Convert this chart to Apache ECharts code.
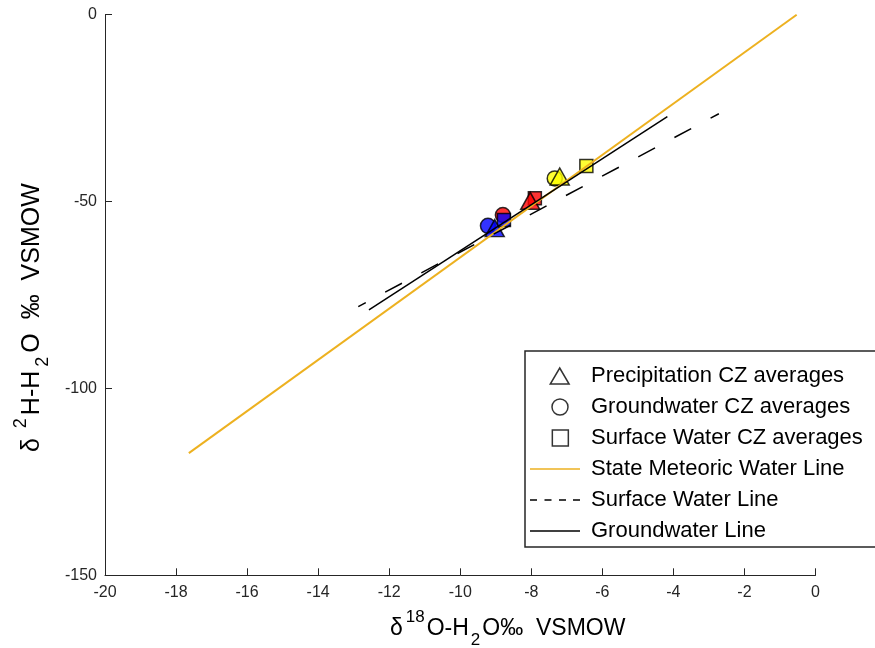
<!DOCTYPE html>
<html><head><meta charset="utf-8">
<script src="https://cdn.jsdelivr.net/npm/echarts@6/dist/echarts.min.js"></script>
<style>html,body{margin:0;padding:0;background:#fff}#c{width:875px;height:648px}</style>
</head><body><div id="c"></div>
<script>
// CZ order: yellow, red, blue
const czColors = ['#FFFF00', '#FF0000', '#0000FF'];
const precipX = [-7.20, -8.03, -9.03];
const precipY = [-43.3, -49.8, -57.1];
const gwX = [-7.34, -8.80, -9.22];
const gwY = [-43.8, -53.6, -56.5];
const swX = [-6.45, -7.90, -8.77];
const swY = [-40.5, -49.1, -54.9];
const smwlX = [-17.64, -0.53];
const smwlY = [-117.3, 0];
const swLineX = [-12.87, -2.72];
const swLineY = [-78.1, -26.5];
const gwLineX = [-12.57, -4.17];
const gwLineY = [-79.0, -27.3];
const names = ['Precipitation CZ averages', 'Groundwater CZ averages', 'Surface Water CZ averages',
  'State Meteoric Water Line', 'Surface Water Line', 'Groundwater Line'];

const F = '"Liberation Sans", Arial, Helvetica, sans-serif';
const AX = '#262626';
const pts = (xs, ys) => xs.map((x, i) => ({ value: [x, ys[i]], itemStyle: { color: czColors[i] } }));
const pairs = (xs, ys) => xs.map((x, i) => [x, ys[i]]);
const mk = { borderColor: '#000', borderWidth: 1.5 };
const legIcon = { color: '#fff', borderColor: '#000', borderWidth: 1.5 };

const icons = {
  tri: 'path://M-10,8.5M10,0L20,17L0,17Z',
  circ: 'path://M-10,8M0,8A8,8 0 1,0 16,8A8,8 0 1,0 0,8Z',
  sq: 'path://M-10,7.5M0,0L15,0L15,15L0,15Z',
  solid: 'path://M0,0L50,0L50,1.5L0,1.5Z',
  dash: 'path://M0,0h7v1.5h-7zM14.5,0h7v1.5h-7zM29,0h7v1.5h-7zM43,0h7v1.5h-7z'
};

const chart = echarts.init(document.getElementById('c'), null, { renderer: 'canvas' });
chart.setOption({
  animation: false,
  backgroundColor: '#fff',
  grid: { left: 105, right: 59.5, top: 14.7, bottom: 72.7, containLabel: false },
  xAxis: {
    type: 'value', min: -20, max: 0, interval: 2,
    axisLine: { onZero: false, lineStyle: { color: AX, width: 1 } },
    axisTick: { inside: true, length: 7, lineStyle: { color: AX } },
    axisLabel: { fontSize: 16, color: AX, fontFamily: F, margin: 9 },
    splitLine: { show: false }
  },
  yAxis: {
    type: 'value', min: -150, max: 0, interval: 50,
    axisLine: { show: true, onZero: false, lineStyle: { color: AX, width: 1 } },
    axisTick: { show: true, inside: true, length: 7, lineStyle: { color: AX } },
    axisLabel: { fontSize: 16, color: AX, fontFamily: F, margin: 8 },
    splitLine: { show: false }
  },
  legend: {
    orient: 'vertical', left: 525, top: 351,
    padding: [14, 30, 5, 5], itemGap: 9, itemWidth: 50, itemHeight: 16,
    symbolKeepAspect: true,
    backgroundColor: '#fff', borderColor: AX, borderWidth: 1.5, borderRadius: 0,
    textStyle: { fontSize: 22, color: '#000', fontFamily: F, padding: [0, 0, 0, 6] },
    selectedMode: false,
    data: [
      { name: names[0], icon: icons.tri, itemStyle: legIcon },
      { name: names[1], icon: icons.circ, itemStyle: legIcon },
      { name: names[2], icon: icons.sq, itemStyle: legIcon },
      { name: names[3], icon: icons.solid, itemStyle: { color: '#EDB120', borderWidth: 0 } },
      { name: names[4], icon: icons.dash, itemStyle: { color: '#000', borderWidth: 0 } },
      { name: names[5], icon: icons.solid, itemStyle: { color: '#000', borderWidth: 0 } }
    ]
  },
  graphic: [
    {
      type: 'text', x: 390, y: 609,
      style: {
        text: '{m|δ}{sup|18}{m|O-H}{sub|2}{m|O‰  VSMOW}',
        textAlign: 'left', textVerticalAlign: 'top',
        rich: {
          m: { fontSize: 23, fontFamily: F, fill: '#000', lineHeight: 40 },
          sup: { fontSize: 17, fontFamily: F, fill: '#000', lineHeight: 15, verticalAlign: 'top', padding: [0, 2, 0, 3] },
          sub: { fontSize: 17, fontFamily: F, fill: '#000', lineHeight: 5, verticalAlign: 'bottom', padding: [0, 2, 0, 2] }
        }
      }
    },
    {
      type: 'text', x: 12, y: 452, rotation: Math.PI / 2,
      style: {
        text: '{m|δ }{sup|2}{m|H-H}{sub|2}{m|O  ‰  VSMOW}',
        textAlign: 'left', textVerticalAlign: 'top',
        rich: {
          m: { fontSize: 25, fontFamily: F, fill: '#000', lineHeight: 40 },
          sup: { fontSize: 18, fontFamily: F, fill: '#000', lineHeight: 15, verticalAlign: 'top', padding: [0, 3, 0, 3] },
          sub: { fontSize: 18, fontFamily: F, fill: '#000', lineHeight: 5, verticalAlign: 'bottom', padding: [0, 4, 0, 4] }
        }
      }
    }
  ],
  series: [
    { name: names[3], type: 'line', symbol: 'none', data: pairs(smwlX, smwlY),
      lineStyle: { color: '#EDB120', width: 2 }, itemStyle: { color: '#EDB120' } },
    { name: names[4], type: 'line', symbol: 'none', data: pairs(swLineX, swLineY),
      lineStyle: { color: '#000', width: 1.5, type: [19, 22], dashOffset: 10.5 }, itemStyle: { color: '#000' } },
    { name: names[5], type: 'line', symbol: 'none', data: pairs(gwLineX, gwLineY),
      lineStyle: { color: '#000', width: 1.5 }, itemStyle: { color: '#000' } },
    { name: names[1], type: 'scatter', symbol: 'circle', symbolSize: 15, data: pts(gwX, gwY), itemStyle: mk },
    { name: names[2], type: 'scatter', symbol: 'rect', symbolSize: 13, data: pts(swX, swY), itemStyle: mk },
    { name: names[0], type: 'scatter', symbol: 'triangle', symbolSize: [19, 17], data: pts(precipX, precipY), itemStyle: mk }
  ]
});
</script></body></html>
